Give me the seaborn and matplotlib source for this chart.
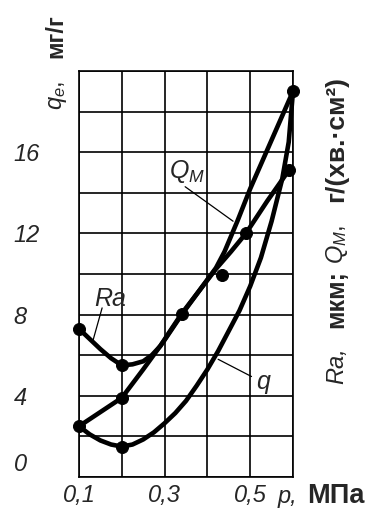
import numpy as np
import pandas as pd
import matplotlib
matplotlib.use("Agg")
import matplotlib.pyplot as plt
import matplotlib.transforms as mtransforms
import seaborn as sns

# values
p_qm = [0.1, 0.15, 0.2, 0.25, 0.3, 0.34, 0.38, 0.42, 0.44, 0.47, 0.5, 0.55, 0.6]
qm = [2.5, 3.2, 3.9, 5.3, 6.75, 8.0, 9.15, 10.3, 11.1, 12.6, 14.2, 16.6, 19.0]

p_ra = [0.1, 0.125, 0.15, 0.175, 0.2, 0.225, 0.25, 0.27, 0.29, 0.31, 0.34,
        0.38, 0.42, 0.455, 0.49, 0.54, 0.59]
ra = [7.3, 6.8, 6.3, 5.85, 5.5, 5.55, 5.7, 6.0, 6.45, 7.1, 8.05,
      9.15, 10.25, 11.1, 12.0, 13.6, 15.1]

p_q = [0.1, 0.125, 0.15, 0.175, 0.2, 0.225, 0.25, 0.275, 0.3, 0.325, 0.35,
       0.375, 0.4, 0.425, 0.45, 0.475, 0.5, 0.525, 0.55, 0.575, 0.59, 0.6]
q = [2.5, 2.1, 1.8, 1.6, 1.5, 1.6, 1.85, 2.2, 2.65, 3.15, 3.75,
     4.5, 5.3, 6.2, 7.2, 8.2, 9.4, 10.8, 12.6, 14.7, 16.5, 19.0]

# measured points (dots)
dots_p = [0.1, 0.1, 0.2, 0.2, 0.2, 0.34, 0.434, 0.49, 0.59, 0.6]
dots_v = [7.3, 2.5, 5.5, 3.9, 1.5, 8.05, 9.95, 12.0, 15.1, 19.0]

x_ticks = [0.1, 0.2, 0.3, 0.4, 0.5, 0.6]
x_labels = ["0,1", "", "0,3", "", "0,5", ""]
y_ticks = list(range(0, 21, 2))
y_labels = [str(v) if v % 4 == 0 and v < 20 else "" for v in y_ticks]

sns.set_theme(style="white")
plt.rcParams["font.family"] = ["Liberation Sans", "DejaVu Sans"]
plt.rcParams["mathtext.fontset"] = "custom"
plt.rcParams["mathtext.it"] = "Liberation Sans:italic"
plt.rcParams["mathtext.rm"] = "Liberation Sans"

df = pd.concat([
    pd.DataFrame({"p": p_qm, "v": qm, "curve": "QM"}),
    pd.DataFrame({"p": p_ra, "v": ra, "curve": "Ra"}),
    pd.DataFrame({"p": p_q, "v": q, "curve": "q"}),
])

W, H = 374, 508
fig = plt.figure(figsize=(W / 100, H / 100), dpi=100)
ax = fig.add_axes([79 / W, 1 - 477 / H, (293 - 79) / W, (477 - 71) / H])

sns.lineplot(data=df, x="p", y="v", units="curve", estimator=None, sort=False,
             color="black", lw=3.3, ax=ax, legend=False)
for ln in ax.lines:
    ln.set_clip_on(False)
    ln.set_solid_capstyle("round")
    ln.set_solid_joinstyle("round")
sns.scatterplot(x=dots_p, y=dots_v, color="black", s=75, edgecolor="black",
                ax=ax, zorder=5, clip_on=False)

ax.set_xlim(0.1, 0.6)
ax.set_ylim(0, 20)
ax.set_xticks(x_ticks)
ax.set_xticklabels(x_labels, fontsize=17, style="italic")
ax.set_yticks(y_ticks)
ax.set_yticklabels(y_labels, fontsize=17, style="italic", ha="left")
ax.tick_params(axis="both", length=0)
ax.tick_params(axis="x", pad=5)
ax.tick_params(axis="y", pad=47)
ax.grid(True, color="black", lw=1.2)
ax.set_axisbelow(True)
for s in ax.spines.values():
    s.set_color("black")
    s.set_linewidth(1.2)
ax.set_xlabel("")
ax.set_ylabel("")

# the "0" label sits a little higher in the reference
zero = ax.get_yticklabels()[0]
zero.set_transform(zero.get_transform()
                   + mtransforms.ScaledTranslation(0, 15 / 100, fig.dpi_scale_trans))

# curve labels with leader lines
lead = dict(arrowstyle="-", lw=0.9, color="black", shrinkA=0, shrinkB=0)
ax.annotate("", xy=(0.133, 6.75), xytext=(0.154, 8.33), arrowprops=lead)
ax.text(0.172, 8.75, "Ra", fontsize=18, style="italic", ha="center", va="center")
ax.annotate("", xy=(0.46, 12.6), xytext=(0.348, 14.3), arrowprops=lead)
ax.text(0.352, 15.05, "$Q_M$", fontsize=18, ha="center", va="center")
ax.annotate("", xy=(0.425, 5.8), xytext=(0.503, 4.95), arrowprops=lead)
ax.text(0.53, 4.7, "q", fontsize=18, style="italic", ha="center", va="center")


def ftext(x, y, s, size=17, **kw):
    fig.text(x / W, 1 - y / H, s, fontsize=size, **kw)


# x axis label
ftext(278, 503, "p,", style="italic", ha="left", va="baseline")
ftext(307, 503, "МПа", size=19.5, weight="bold", ha="left", va="baseline")

# left axis label (rotated)
rot = dict(rotation=90, rotation_mode="anchor", ha="left", va="baseline")
ftext(62, 110, "$q_e$,", **rot)
ftext(62, 58, "мг/г", weight="bold", **rot)

# right axis label (rotated)
ftext(343, 384, "Ra,", style="italic", **rot)
ftext(343, 328, "мкм;", size=18, weight="bold", **rot)
ftext(343, 264, "$Q_M$,", **rot)
ftext(343, 202, "г/(хв.·см²)", size=19, weight="bold", **rot)

fig.savefig("out.png", dpi=100)
